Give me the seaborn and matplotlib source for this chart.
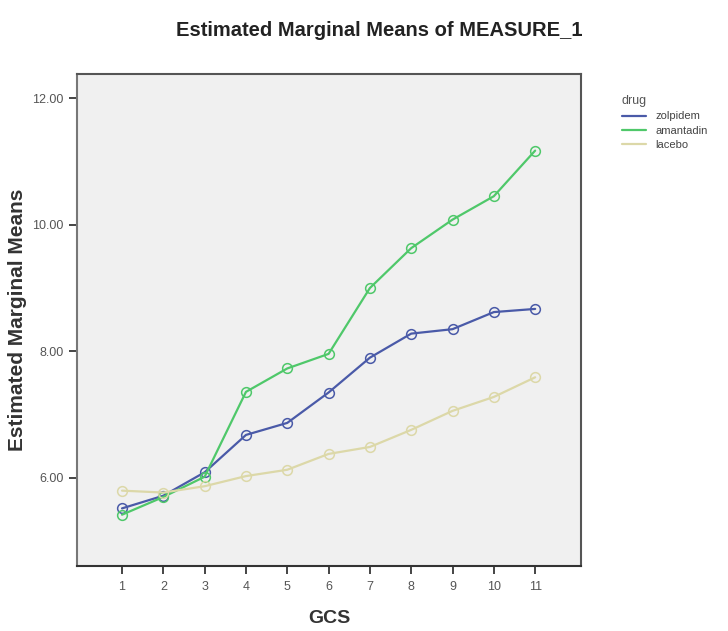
import pandas as pd
import matplotlib.pyplot as plt
import seaborn as sns

# Estimated marginal means
gcs = list(range(1, 12))
drugs = ['zolpidem', 'amantadin', 'lacebo']
zolpidem = [5.52, 5.72, 6.09, 6.68, 6.87, 7.35, 7.90, 8.28, 8.35, 8.62, 8.67]
amantadin = [5.42, 5.70, 6.02, 7.36, 7.73, 7.96, 9.00, 9.63, 10.08, 10.45, 11.17]
lacebo = [5.80, 5.77, 5.87, 6.03, 6.13, 6.38, 6.49, 6.76, 7.06, 7.28, 7.59]
yticks = [6, 8, 10, 12]

df = pd.DataFrame({
    'GCS': gcs * 3,
    'mean': zolpidem + amantadin + lacebo,
    'drug': [d for d in drugs for _ in gcs],
})

sns.set_style('white')
plt.rcParams['font.family'] = ['Liberation Sans', 'DejaVu Sans']

fig = plt.figure(figsize=(7.28, 6.31), dpi=100)
ax = fig.add_axes([77 / 728, 1 - 566 / 631, 504 / 728, 492 / 631])
ax.set_facecolor('#f0f0f0')

palette = {'zolpidem': '#4a5aa8', 'amantadin': '#4fc86a', 'lacebo': '#dcd8a8'}
sns.lineplot(data=df, x='GCS', y='mean', hue='drug', hue_order=drugs,
             palette=palette, marker='o', markerfacecolor='none',
             markersize=7, markeredgewidth=1.1, linewidth=1.6, ax=ax)
# open circles in the line colour
for line in ax.lines:
    line.set_markeredgecolor(line.get_color())

ax.set_xlim(-0.09, 12.11)
ax.set_ylim(4.61, 12.38)
ax.set_xticks(gcs)
ax.set_xticklabels([str(g) for g in gcs])
ax.set_yticks(yticks)
ax.set_yticklabels([f'{v:.2f}' for v in yticks])
ax.tick_params(axis='both', bottom=True, left=True, colors='#444444',
               labelcolor='#555555', labelsize=9, length=6, width=1.4,
               direction='out')
ax.tick_params(axis='x', pad=5)
for side, sp in ax.spines.items():
    sp.set_color('#555555')
    sp.set_linewidth(1.5)
ax.spines['left'].set_color('#777777')
ax.spines['bottom'].set_color('#333333')

ax.set_xlabel('GCS', fontsize=14, fontweight='bold', color='#333333', labelpad=12)
ax.set_ylabel('Estimated Marginal Means', fontsize=15, fontweight='bold',
              color='#333333', labelpad=4)
fig.text(379 / 728, 1 - 30 / 631, 'Estimated Marginal Means of MEASURE_1',
         ha='center', va='center', fontsize=14.5, fontweight='bold', color='#222222')

handles, labels = ax.get_legend_handles_labels()
for h in handles:
    h.set_marker('')
leg = ax.legend(handles, labels, title='drug', loc='upper left',
                bbox_to_anchor=(612 / 728, 1 - 85 / 631),
                bbox_transform=fig.transFigure, frameon=False,
                fontsize=8, title_fontsize=9, handlelength=2.2,
                labelspacing=0.4, alignment='left')
for t in leg.get_texts():
    t.set_color('#444444')
leg.get_title().set_color('#555555')

fig.savefig('out.png', dpi=100)
